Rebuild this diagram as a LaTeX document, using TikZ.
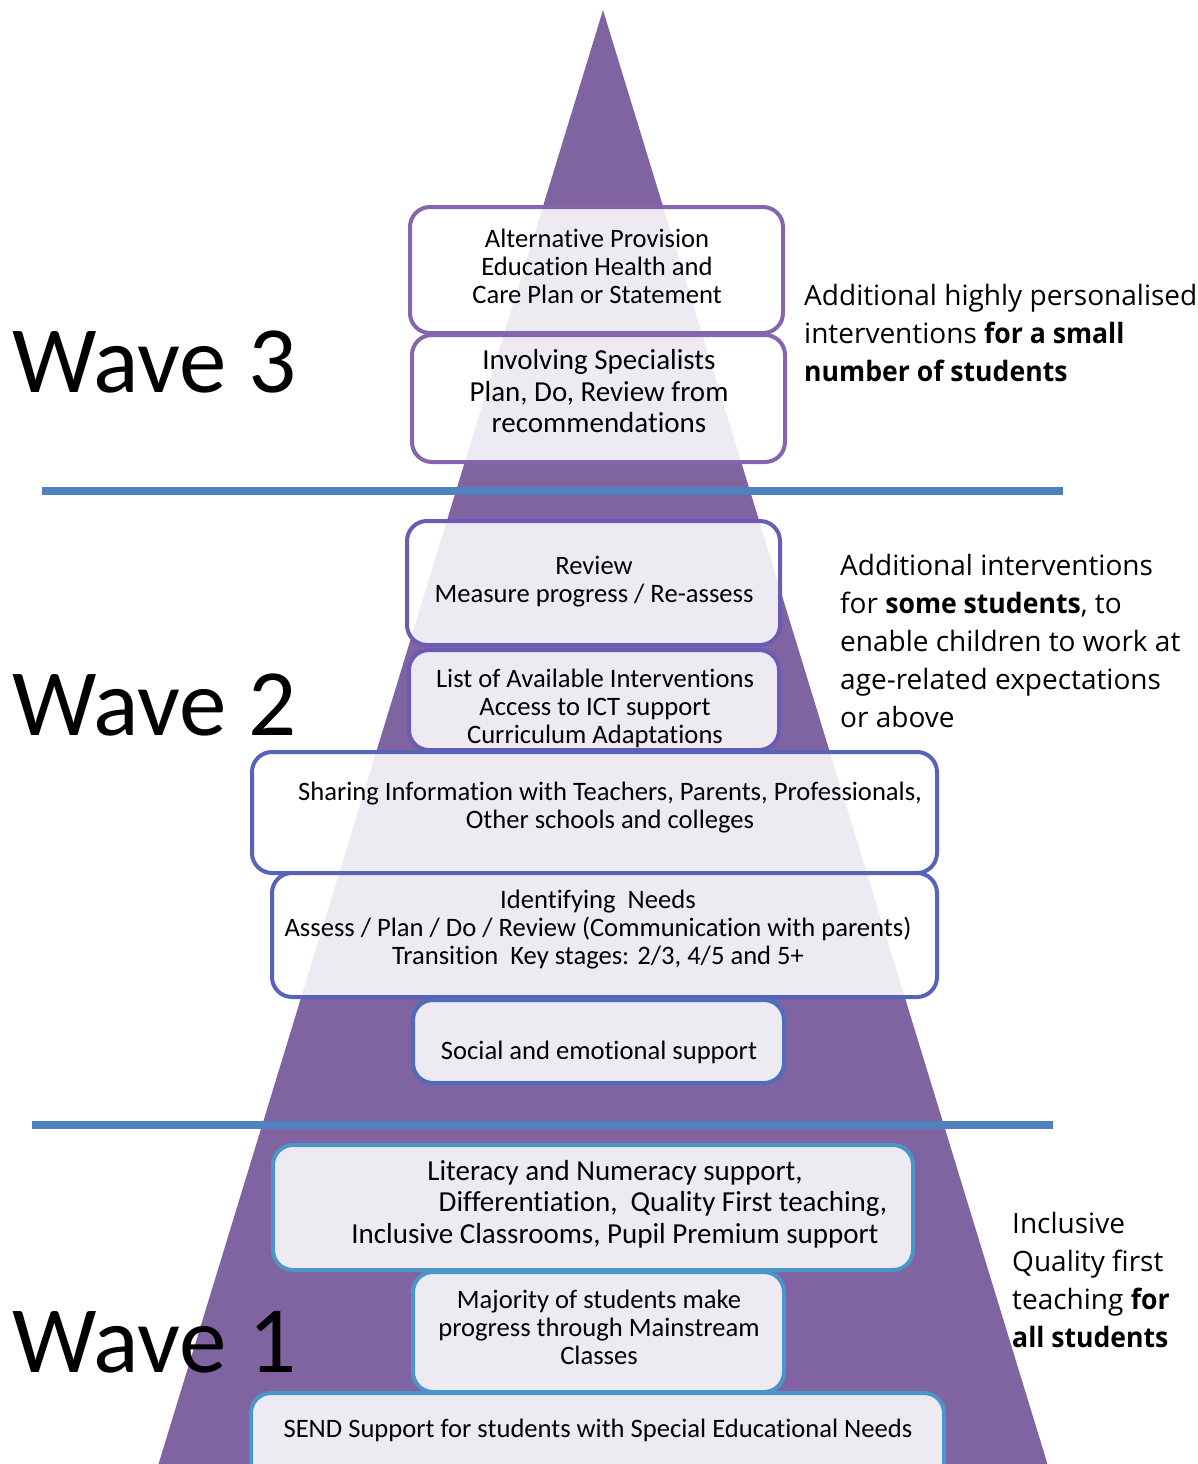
\documentclass[tikz,border=0pt]{standalone}
\usepackage{fontspec}
\setmainfont{Carlito}[Ligatures=NoCommon]
\newfontfamily\osans{Open Sans}[BoldFeatures={FakeStretch=0.95}]
\definecolor{purp}{HTML}{8064A2}
\definecolor{lineblue}{HTML}{4F81BD}
\definecolor{bwthree}{HTML}{8566AE}
\definecolor{bwtwoa}{HTML}{6A5BB5}
\definecolor{bwtwob}{HTML}{5563B9}
\definecolor{bwtwoc}{HTML}{4E6DBB}
\definecolor{bwone}{HTML}{4B95C8}
\begin{document}
\begin{tikzpicture}[x=1pt,y=-1pt,
  box/.style={draw, line width=4pt, rounded corners=20pt, fill=white, fill opacity=0.87, draw opacity=1, inner sep=0pt},
  tx/.style={font=\fontsize{26.6}{28}\selectfont, align=center, inner sep=0pt},
  txb/.style={font=\fontsize{29}{31.5}\selectfont, align=center, inner sep=0pt},
  wave/.style={font=\fontsize{95}{100}\selectfont, anchor=base west, inner sep=0pt},
  side/.style={font=\osans\fontsize{28}{38}\selectfont, anchor=base west, inner sep=0pt},
  sep/.style={draw=lineblue, line width=8pt}]
\useasboundingbox (0,0) rectangle (1197,1464);
\begin{scope}
\clip (0,0) rectangle (1197,1464);
\fill[purp] (603,10) -- (1060,1505) -- (146,1505) -- cycle;
\coordinate (l1a) at (42,491); \coordinate (l1b) at (1063,491);
\coordinate (l2a) at (32,1125); \coordinate (l2b) at (1053,1125);
\draw[sep] (l1a) -- (l1b);
\draw[sep] (l2a) -- (l2b);
% wave 3 boxes
\node[box, draw=bwthree, minimum width=373pt, minimum height=126pt] (b1) at (596.5,270) {};
\node[box, draw=bwthree, minimum width=373pt, minimum height=127pt] (b2) at (598.5,398.5) {};
% wave 2 boxes
\node[box, draw=bwtwoa, minimum width=373pt, minimum height=124pt] (b3) at (593.5,583) {};
\node[box, draw=bwtwoa, minimum width=370pt, minimum height=100pt] (b4) at (594,700) {};
\node[box, draw=bwtwob, minimum width=685pt, minimum height=121pt] (b5) at (594.5,812.5) {};
\node[box, draw=bwtwob, minimum width=665pt, minimum height=124pt] (b6) at (604.5,935) {};
\node[box, draw=bwtwoc, minimum width=371pt, minimum height=83pt] (b7) at (598.5,1041.5) {};
% wave 1 boxes
\node[box, draw=bwone, minimum width=640pt, minimum height=125pt] (b8) at (593,1207.5) {};
\node[box, draw=bwone, minimum width=371pt, minimum height=120pt] (b9) at (598.5,1332) {};
\node[box, draw=bwone, minimum width=693pt, minimum height=110pt] (b10) at (597.5,1448) {};
\end{scope}
% box texts
\node[tx] (t1) at (597,266) {Alternative Provision\\Education Health and\\Care Plan or Statement};
\node[txb] (t2) at (599,391.5) {Involving Specialists\\Plan, Do, Review from\\recommendations};
\node[tx] (t3) at (594,582) {Review\\Measure progress / Re-assess};
\node[tx] (t4) at (595,708) {List of Available Interventions\\Access to ICT support\\Curriculum Adaptations};
\node[tx] (t5) at (610,808) {Sharing Information with Teachers, Parents, Professionals,\\Other schools and colleges};
\node[tx] (t6) at (598,930) {Identifying\ \ Needs\\Assess / Plan / Do / Review (Communication with parents)\\Transition\ \ Key stages: 2/3, 4/5 and 5+};
\node[tx] (t7) at (599,1052) {Social and emotional support};
\node[txb] (t8) at (615,1204) {Literacy and Numeracy support,\\\hspace*{96pt}Differentiation,\ \ Quality First teaching,\\Inclusive Classrooms, Pupil Premium support};
\node[tx] (t9) at (599,1327) {Majority of students make\\progress through Mainstream\\Classes};
\node[tx] (t10) at (598,1430) {SEND Support for students with Special Educational Needs};
% wave labels
\node[wave] (w3) at (12,392) {Wave 3};
\node[wave] (w2) at (12,735) {Wave 2};
\node[wave] (w1) at (12,1372) {Wave 1};
% side texts
\node[side] (s1a) at (804,305) {Additional highly personalised};
\node[side] (s1b) at (804,343) {interventions \textbf{for a small}};
\node[side] (s1c) at (804,381) {\textbf{number of students}};
\node[side] (s2a) at (840,575) {Additional interventions};
\node[side] (s2b) at (840,613) {for \textbf{some students}, to};
\node[side] (s2c) at (840,651) {enable children to work at};
\node[side] (s2d) at (840,689) {age-related expectations};
\node[side] (s2e) at (840,727) {or above};
\node[side] (s3a) at (1012,1233) {Inclusive};
\node[side] (s3b) at (1012,1271) {Quality first};
\node[side] (s3c) at (1012,1309) {teaching \textbf{for}};
\node[side] (s3d) at (1012,1347) {\textbf{all students}};
\end{tikzpicture}
\end{document}
